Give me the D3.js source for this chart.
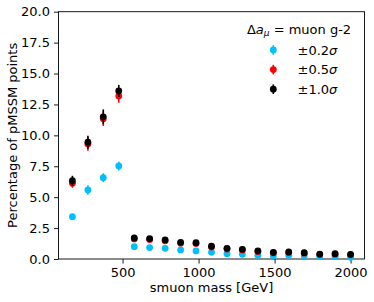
<!DOCTYPE html>
<html>
<head>
<meta charset="utf-8">
<script src="https://d3js.org/d3.v7.min.js"></script>
<style>
  body { margin: 0; background: white; }
  svg { display: block; font-family: "DejaVu Sans", sans-serif; }
</style>
</head>
<body>
<script>
  // smuon mass bins [GeV]
  let masses = [170, 272, 373, 475, 577, 678, 780, 882, 983, 1085, 1187, 1288, 1390, 1492, 1593, 1695, 1797, 1898, 2000]

  // percentage of pMSSM points for each tolerance
  let pct02 = [3.42, 5.58, 6.58, 7.52, 1.00, 0.92, 0.86, 0.73, 0.65, 0.54, 0.43, 0.38, 0.30, 0.27, 0.30, 0.27, 0.19, 0.19, 0.14]
  let err02 = [0.20, 0.38, 0.36, 0.36, 0.12, 0.11, 0.11, 0.10, 0.10, 0.09, 0.08, 0.07, 0.07, 0.06, 0.06, 0.06, 0.05, 0.05, 0.04]
  let pct05 = [6.12, 9.30, 11.35, 13.18, 1.62, 1.57, 1.47, 1.28, 1.25, 0.97, 0.81, 0.73, 0.60, 0.50, 0.52, 0.47, 0.36, 0.39, 0.34]
  let err05 = [0.36, 0.54, 0.59, 0.54, 0.15, 0.15, 0.14, 0.13, 0.13, 0.11, 0.10, 0.10, 0.09, 0.08, 0.08, 0.08, 0.07, 0.07, 0.07]
  let pct10 = [6.33, 9.44, 11.50, 13.59, 1.70, 1.64, 1.54, 1.35, 1.32, 1.03, 0.86, 0.78, 0.65, 0.54, 0.57, 0.51, 0.40, 0.43, 0.38]
  let err10 = [0.40, 0.53, 0.60, 0.49, 0.15, 0.15, 0.14, 0.13, 0.13, 0.11, 0.10, 0.10, 0.09, 0.08, 0.08, 0.08, 0.07, 0.07, 0.07]

  let xTicks = [500, 1000, 1500, 2000]
  let yTicks = [0, 2.5, 5, 7.5, 10, 12.5, 15, 17.5, 20]

  let series = [
    {label: "0.2", color: "#00bfff", values: pct02, errors: err02},
    {label: "0.5", color: "#ff0000", values: pct05, errors: err05},
    {label: "1.0", color: "#000000", values: pct10, errors: err10}
  ]

  let width = 374
  let height = 302
  let plotLeft = 58.5, plotRight = 364.5, plotTop = 11.7, plotBottom = 259

  let svg = d3.select("body").append("svg")
              .attr("width", width)
              .attr("height", height)

  // matplotlib style 5% margins around the data
  let xMin = d3.min(masses), xMax = d3.max(masses)
  let pad = (xMax - xMin) * 0.05
  let x = d3.scaleLinear().domain([xMin - pad, xMax + pad]).range([plotLeft, plotRight])
  let y = d3.scaleLinear().domain([0, 20]).range([plotBottom, plotTop])

  let xAxis = svg.append("g")
                 .attr("transform", `translate(0,${plotBottom})`)
                 .call(d3.axisBottom(x).tickValues(xTicks).tickSize(4.5).tickPadding(4).tickFormat(d3.format("d")))
  let yAxis = svg.append("g")
                 .attr("transform", `translate(${plotLeft},0)`)
                 .call(d3.axisLeft(y).tickValues(yTicks).tickSize(4.5).tickPadding(4).tickFormat(d3.format(".1f")))

  for (let ax of [xAxis, yAxis]) {
    ax.select(".domain").remove()
    ax.selectAll("text").attr("font-size", 13).attr("fill", "black").attr("font-family", "DejaVu Sans")
    ax.selectAll("line").attr("stroke", "black").attr("stroke-width", 0.9)
  }

  // frame
  svg.append("rect")
     .attr("x", plotLeft).attr("y", plotTop)
     .attr("width", plotRight - plotLeft).attr("height", plotBottom - plotTop)
     .attr("fill", "none").attr("stroke", "black").attr("stroke-width", 0.9)

  // data with error bars
  series.forEach(s => {
    let g = svg.append("g")
    let pts = masses.map((m, i) => ({m: m, v: s.values[i], e: s.errors[i]}))
    g.selectAll("line").data(pts).enter().append("line")
     .attr("x1", d => x(d.m)).attr("x2", d => x(d.m))
     .attr("y1", d => y(d.v - d.e)).attr("y2", d => y(d.v + d.e))
     .attr("stroke", s.color).attr("stroke-width", 1.6)
    g.selectAll("circle").data(pts).enter().append("circle")
     .attr("cx", d => x(d.m)).attr("cy", d => y(d.v))
     .attr("r", 3.4).attr("fill", s.color)
  })

  // axis labels
  svg.append("text")
     .attr("x", (plotLeft + plotRight) / 2).attr("y", 292)
     .attr("text-anchor", "middle").attr("font-size", 13)
     .text("smuon mass [GeV]")

  svg.append("text")
     .attr("transform", `translate(17,${(plotTop + plotBottom) / 2}) rotate(-90)`)
     .attr("text-anchor", "middle").attr("font-size", 13)
     .text("Percentage of pMSSM points")

  // legend
  let legend = svg.append("g")
  let title = legend.append("text")
                    .attr("x", 299).attr("y", 33.5)
                    .attr("text-anchor", "middle").attr("font-size", 13)
  title.append("tspan").text("Δ")
  title.append("tspan").attr("font-style", "italic").text("a")
  title.append("tspan").attr("font-style", "italic").attr("font-size", 9).attr("dy", 2.5).text("μ")
  title.append("tspan").attr("dy", -2.5).text(" = muon g-2")

  series.forEach((s, i) => {
    let cy = 50 + i * 19.6
    legend.append("line")
          .attr("x1", 273.3).attr("x2", 273.3)
          .attr("y1", cy - 4.8).attr("y2", cy + 4.8)
          .attr("stroke", s.color).attr("stroke-width", 1.6)
    legend.append("circle")
          .attr("cx", 273.3).attr("cy", cy).attr("r", 3.4).attr("fill", s.color)
    let t = legend.append("text")
                  .attr("x", 297.5).attr("y", cy + 4.7)
                  .attr("font-size", 13)
    t.append("tspan").text("±" + s.label)
    t.append("tspan").attr("font-style", "italic").text("σ")
  })
</script>
</body>
</html>
